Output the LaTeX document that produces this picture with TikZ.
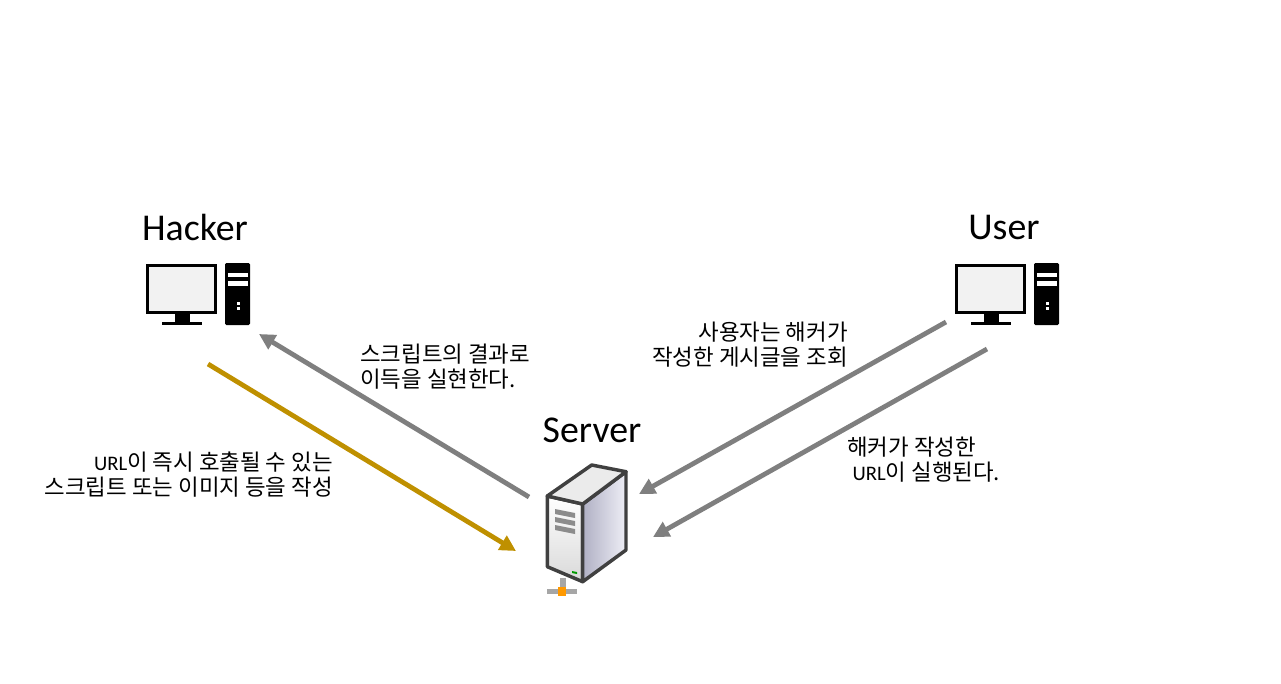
\documentclass[tikz,border=0pt]{standalone}
\usepackage{fontspec}
\setmainfont{Carlito}
\newfontfamily\cjk{Noto Sans CJK KR}
\usetikzlibrary{arrows.meta}
\definecolor{arrowgray}{RGB}{127,127,127}
\definecolor{arrowgold}{RGB}{191,144,0}
\definecolor{serverside}{RGB}{176,176,196}
\definecolor{serverlight}{RGB}{238,238,246}
\tikzset{
    title/.style={font=\fontsize{28.4}{30}\selectfont, text=black, inner sep=0pt},
    note/.style={font=\fontsize{16.8}{18.75}\selectfont\cjk, text=black, inner sep=0pt},
    flow/.style={arrowgray, line width=3.6pt, -{Triangle[length=12pt,width=12pt]}},
    attack/.style={flow, draw=arrowgold, -{Triangle[length=12pt,width=12pt,fill=arrowgold]}},
    computer/.pic={
        \draw[black, line width=2.4pt, fill=black!5] (147.6,265.6) rectangle (215.4,312.5);
        \fill[black] (175,313) rectangle (190,322);
        \fill[black] (162,322) rectangle (202,325);
        \fill[black, rounded corners=1pt] (225,263) rectangle (250,325);
        \fill[white] (228,273) rectangle (248,277);
        \fill[white] (228,281) rectangle (248,286);
        \fill[white] (236.5,302) rectangle (239.5,305);
        \fill[white] (236.5,307) rectangle (239.5,310);
    }
}
\newcommand{\urltext}{{\rmfamily\fontsize{15.5}{15.5}\selectfont URL}}
\begin{document}
\begin{tikzpicture}[x=0.75pt, y=-0.75pt]
    \useasboundingbox (0,0) rectangle (1281,683);

    % Titres
    \node[title] (hacker) at (195,227) {Hacker};
    \node[title] (user) at (1004,227) {User};
    \node[title] (server) at (592,430) {Server};

    % Ordinateurs
    \pic at (0,0) {computer};
    \pic at (809,0) {computer};

    % Serveur
    \draw[black!75, line width=2.6pt, line join=round, top color=white, bottom color=black!15]
        (547.3,496) -- (582.7,504) -- (582.7,581.7) -- (547.3,566.7) -- cycle;
    \draw[black!75, line width=2.6pt, line join=round, left color=serverside, right color=serverlight]
        (582.7,504) -- (626,471.7) -- (626,550) -- (582.7,581.7) -- cycle;
    \draw[black!75, line width=2.6pt, line join=round, fill=black!8]
        (547.3,496) -- (591.7,465) -- (626,471.7) -- (582.7,504) -- cycle;
    \foreach \y in {509,517,525}
        \fill[black!45] (555,\y) -- (575,\y+4) -- (575,\y+9) -- (555,\y+5) -- cycle;
    \fill[green!60!black] (572,571) -- (577,572) -- (577,574) -- (572,573) -- cycle;
    \fill[black!35] (559.5,578) rectangle (565.5,590);
    \fill[black!35] (547,588.5) rectangle (577,593.5);
    \fill[orange!80!yellow] (558,587) rectangle (566,596);

    % Extremites des fleches
    \coordinate (attackstart) at (208,364);
    \coordinate (attackend) at (516,551);
    \coordinate (resultstart) at (529,497);
    \coordinate (resultend) at (259,334);
    \coordinate (viewstart) at (946,322);
    \coordinate (viewend) at (639,494);
    \coordinate (runstart) at (987,349);
    \coordinate (runend) at (653,537);

    % Fleches
    \draw[attack] (attackstart) -- (attackend);
    \draw[flow] (resultstart) -- (resultend);
    \draw[flow] (viewstart) -- (viewend);
    \draw[flow] (runstart) -- (runend);

    % Textes
    \node[note, align=right, anchor=east] (attacknote) at (333,474.5)
        {\urltext 이 즉시 호출될 수 있는\\스크립트 또는 이미지 등을 작성};
    \node[note, align=left, anchor=west] (resultnote) at (360,366.5)
        {스크립트의 결과로\\이득을 실현한다.};
    \node[note, align=right, anchor=east] (viewnote) at (848,344.5)
        {사용자는 해커가\\작성한 게시글을 조회};
    \node[note, align=left, anchor=west] (runnote) at (847,460)
        {해커가 작성한\\\hspace*{4pt}\urltext 이 실행된다.};
\end{tikzpicture}
\end{document}
